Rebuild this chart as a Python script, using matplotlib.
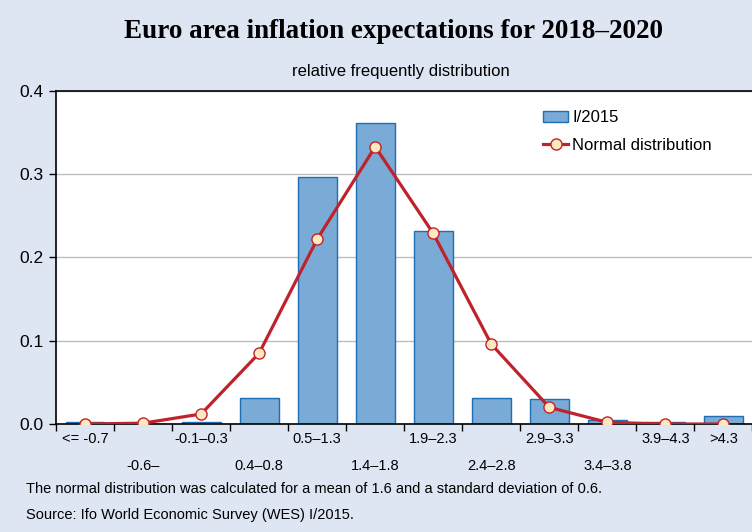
import matplotlib
matplotlib.use("Agg")
import matplotlib.pyplot as plt
import numpy as np

categories = ["<= -0.7", "-0.6–", "-0.1–0.3", "0.4–0.8", "0.5–1.3", "1.4–1.8",
              "1.9–2.3", "2.4–2.8", "2.9–3.3", "3.4–3.8", "3.9–4.3", ">4.3"]
survey_2015 = [0.002, 0.0, 0.002, 0.031, 0.297, 0.361, 0.232, 0.031, 0.030, 0.005, 0.003, 0.010]
normal_dist = [0.000, 0.001, 0.012, 0.085, 0.222, 0.333, 0.229, 0.096, 0.020, 0.002, 0.000, 0.000]
yticks = [0.0, 0.1, 0.2, 0.3, 0.4]
lower_row = [1, 3, 5, 7, 9]

BG = "#dfe6f3"
BAR = "#7aabd6"
BAR_EDGE = "#1f6db3"
LINE = "#c0222c"
MARK = "#fde8bf"

plt.rcParams["font.family"] = ["Liberation Sans", "DejaVu Sans"]

fig = plt.figure(figsize=(7.52, 5.32), dpi=100, facecolor=BG)
ax = fig.add_axes([0.0745, 0.203, 0.926, 0.626])
ax.set_facecolor("white")

x = np.arange(len(categories))
bars = ax.bar(x, survey_2015, width=0.67, color=BAR, edgecolor=BAR_EDGE, linewidth=1.0,
              label="I/2015", zorder=2)
line, = ax.plot(x, normal_dist, color=LINE, linewidth=2.3, marker="o", markersize=8,
                markerfacecolor=MARK, markeredgecolor=LINE, markeredgewidth=1.0,
                label="Normal distribution", zorder=3)

ax.set_xlim(-0.5, len(categories) - 0.5)
ax.set_ylim(0, 0.4)
ax.set_yticks(yticks)
ax.set_yticklabels([f"{v:.1f}" for v in yticks], fontsize=12.5)
ax.tick_params(axis="y", direction="out", length=5, width=1, pad=4)
ax.yaxis.grid(True, color="#bdbdbd", linewidth=1, zorder=0)
ax.set_axisbelow(True)

ax.set_xticks(x)
ax.set_xticklabels(categories, fontsize=10.5)
ax.tick_params(axis="x", which="major", length=0)
for i, t in enumerate(ax.xaxis.get_major_ticks()):
    t.set_pad(25 if i in lower_row else 6)
ax.set_xticks(np.arange(len(categories) + 1) - 0.5, minor=True)
ax.tick_params(axis="x", which="minor", direction="out", length=5, width=1)

for s in ["left", "top", "bottom"]:
    ax.spines[s].set_color("black")
    ax.spines[s].set_linewidth(1.2)
ax.spines["right"].set_visible(False)

ax.legend(handles=[bars, line], loc="upper left", bbox_to_anchor=(0.690, 0.962),
          frameon=False, fontsize=12, handlelength=1.5, handletextpad=0.25,
          labelspacing=0.78, borderaxespad=0)

fig.text(0.523, 0.940, "Euro area inflation expectations for 2018–2020",
         ha="center", va="center", fontsize=19.5, fontweight="bold",
         family="Liberation Serif")
fig.text(0.533, 0.866, "relative frequently distribution", ha="center",
         va="center", fontsize=12)
fig.text(0.035, 0.081, "The normal distribution was calculated for a mean of 1.6 and a standard deviation of 0.6.",
         ha="left", va="center", fontsize=10.5)
fig.text(0.035, 0.032, "Source: Ifo World Economic Survey (WES) I/2015.",
         ha="left", va="center", fontsize=10.5)

fig.savefig("out.png", dpi=100, facecolor=BG)
